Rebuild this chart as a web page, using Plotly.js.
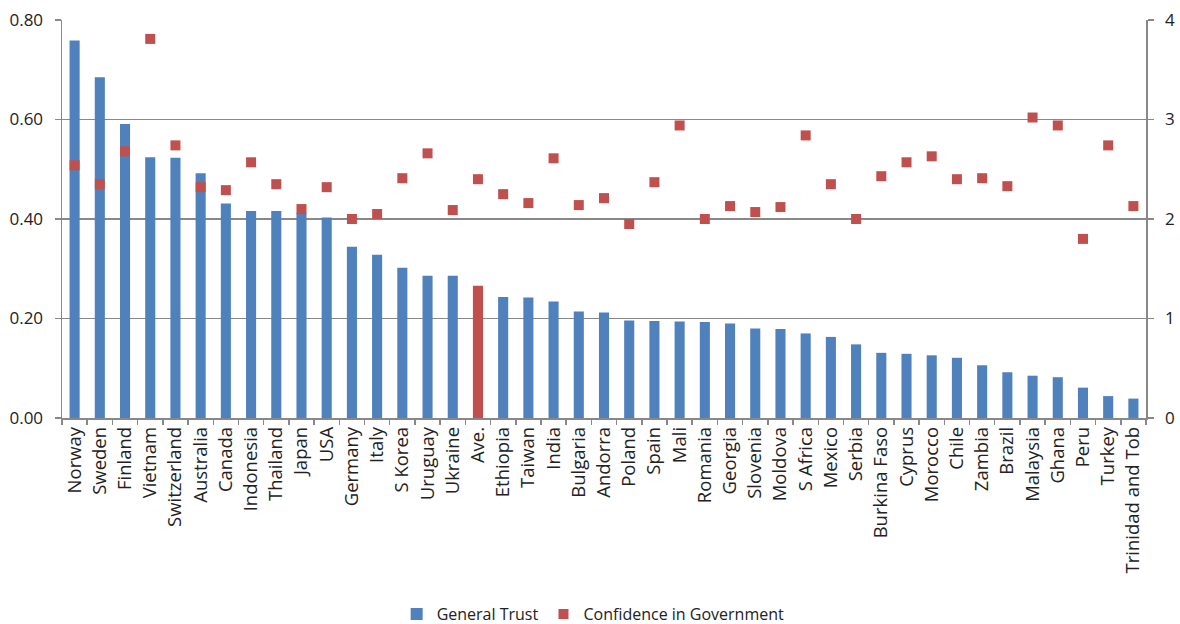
<!DOCTYPE html>
<html>
<head>
<meta charset="utf-8">
<script src="https://cdn.plot.ly/plotly-3.0.1.min.js"></script>
<style>
  html, body { margin: 0; padding: 0; background: #fff; }
  #chart { width: 1180px; height: 624px; }
</style>
</head>
<body>
<div id="chart"></div>
<script>
// Countries, ordered by general trust; "Ave." is the cross-country average
const countries = [
  'Norway', 'Sweden', 'Finland', 'Vietnam', 'Switzerland', 'Australia', 'Canada',
  'Indonesia', 'Thailand', 'Japan', 'USA', 'Germany', 'Italy', 'S Korea', 'Uruguay',
  'Ukraine', 'Ave.', 'Ethiopia', 'Taiwan', 'India', 'Bulgaria', 'Andorra', 'Poland',
  'Spain', 'Mali', 'Romania', 'Georgia', 'Slovenia', 'Moldova', 'S Africa', 'Mexico',
  'Serbia', 'Burkina Faso', 'Cyprus', 'Morocco', 'Chile', 'Zambia', 'Brazil',
  'Malaysia', 'Ghana', 'Peru', 'Turkey', 'Trinidad and Tob'
];

// Share answering that most people can be trusted (left axis)
const generalTrust = [
  0.759, 0.685, 0.591, 0.524, 0.523, 0.492, 0.431,
  0.416, 0.416, 0.412, 0.403, 0.344, 0.328, 0.302, 0.286,
  0.286, 0.266, 0.243, 0.242, 0.234, 0.214, 0.212, 0.196,
  0.195, 0.194, 0.193, 0.190, 0.180, 0.179, 0.170, 0.163,
  0.148, 0.131, 0.129, 0.126, 0.121, 0.106, 0.092,
  0.085, 0.082, 0.061, 0.044, 0.039
];

// Mean confidence in government (right axis)
const confidenceInGov = [
  2.54, 2.35, 2.68, 3.81, 2.74, 2.32, 2.29,
  2.57, 2.35, 2.10, 2.32, 2.00, 2.05, 2.41, 2.66,
  2.09, 2.40, 2.25, 2.16, 2.61, 2.14, 2.21, 1.95,
  2.37, 2.94, 2.00, 2.13, 2.07, 2.12, 2.84, 2.35,
  2.00, 2.43, 2.57, 2.63, 2.40, 2.41, 2.33,
  3.02, 2.94, 1.80, 2.74, 2.13
];

const leftTicks = [0, 0.2, 0.4, 0.6, 0.8];
const rightTicks = [0, 1, 2, 3, 4];

const BLUE = '#4F81BD';
const RED = '#C0504D';
const GRID = '#888888';
const TEXT = '#222222';
const FONT = '"Open Sans", "Noto Sans", sans-serif';

// The average bar is highlighted in red
const barColors = countries.map(c => (c === 'Ave.' ? RED : BLUE));

const traces = [
  {
    type: 'bar',
    name: 'General Trust',
    x: countries,
    y: generalTrust,
    marker: { color: barColors, line: { width: 0 } },
    yaxis: 'y',
    showlegend: true
  },
  {
    type: 'scatter',
    mode: 'markers',
    name: 'Confidence in Government',
    x: countries,
    y: confidenceInGov,
    marker: { symbol: 'square', size: 10, color: RED, line: { width: 0 } },
    yaxis: 'y2'
  }
];

const layout = {
  width: 1180,
  height: 624,
  margin: { l: 62, r: 34, t: 20, b: 206, pad: 0, autoexpand: false },
  paper_bgcolor: '#ffffff',
  plot_bgcolor: '#ffffff',
  font: { family: FONT, size: 16, color: TEXT },
  bargap: 0.6,
  showlegend: true,
  legend: {
    orientation: 'h',
    xref: 'paper', x: 0.49, xanchor: 'center',
    yref: 'container', y: 0.016, yanchor: 'middle',
    font: { family: FONT, size: 16, color: TEXT },
    traceorder: 'normal',
    itemwidth: 30
  },
  xaxis: {
    type: 'category',
    range: [-0.5, countries.length - 0.5],
    automargin: false,
    tickangle: -90,
    ticks: 'outside',
    tickson: 'boundaries',
    ticklen: 5,
    tickcolor: GRID,
    tickwidth: 1.5,
    showline: true,
    linecolor: GRID,
    linewidth: 1.5,
    showgrid: false,
    tickfont: { family: FONT, size: 18.5, color: TEXT },
    fixedrange: true
  },
  yaxis: {
    automargin: false,
    range: [0, 0.8],
    tickvals: leftTicks,
    tickformat: '.2f',
    ticks: 'outside',
    ticklen: 6,
    ticklabelstandoff: 8,
    tickcolor: GRID,
    tickwidth: 1.5,
    showline: true,
    linecolor: GRID,
    linewidth: 1.5,
    showgrid: true,
    gridcolor: GRID,
    gridwidth: 1.5,
    zeroline: false,
    tickfont: { family: FONT, size: 17, color: TEXT },
    fixedrange: true
  },
  yaxis2: {
    automargin: false,
    overlaying: 'y',
    side: 'right',
    range: [0, 4],
    tickvals: rightTicks,
    ticks: 'outside',
    ticklen: 6,
    ticklabelstandoff: 8,
    tickcolor: GRID,
    tickwidth: 1.5,
    showline: true,
    linecolor: GRID,
    linewidth: 1.5,
    showgrid: false,
    zeroline: false,
    tickfont: { family: FONT, size: 17, color: TEXT },
    fixedrange: true
  }
};

Plotly.newPlot('chart', traces, layout, { displayModeBar: false, staticPlot: true });
</script>
</body>
</html>
